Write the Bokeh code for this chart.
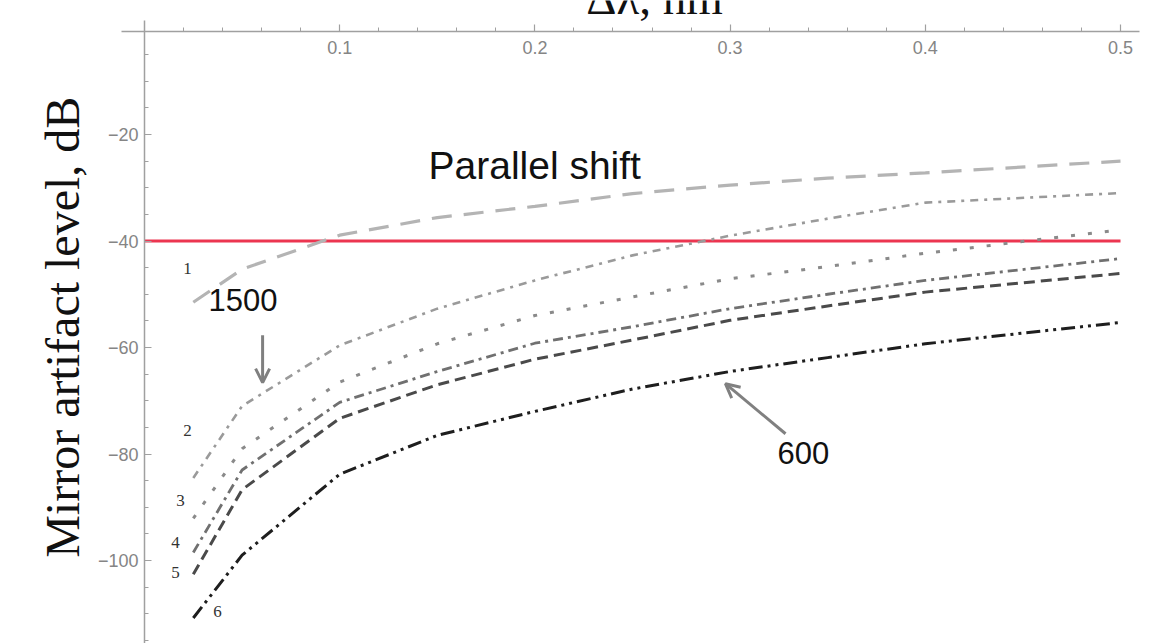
from bokeh.plotting import figure
from bokeh.models import Range1d, LinearAxis, FixedTicker, Label, Arrow, OpenHead
from bokeh.core.properties import value
from bokeh.embed import file_html
from bokeh.resources import INLINE

# ---- data ----
dlambda = [0.025, 0.05, 0.1, 0.15, 0.2, 0.25, 0.3, 0.35, 0.4, 0.5]
curve1 = [-51.5, -45.3, -38.9, -35.6, -33.5, -31.1, -29.5, -28.2, -27.2, -25.0]
curve2 = [-84.5, -71.0, -59.6, -52.7, -47.4, -42.7, -39.0, -35.8, -32.8, -31.0]
curve3 = [-92.1, -79.0, -66.5, -59.3, -54.0, -50.5, -47.1, -44.8, -42.3, -37.9]
curve4 = [-98.5, -83.0, -70.3, -64.5, -59.2, -56.1, -52.7, -50.0, -47.4, -43.3]
curve5 = [-102.6, -86.7, -73.3, -67.0, -62.2, -58.6, -54.9, -52.2, -49.6, -46.1]
curve6 = [-110.8, -99.0, -83.8, -76.5, -72.0, -67.8, -64.5, -61.9, -59.3, -55.3]
curves = [curve1, curve2, curve3, curve4, curve5, curve6]
curve_names = ["1", "2", "3", "4", "5", "6"]
threshold_db = -40

x_major = [0.1, 0.2, 0.3, 0.4, 0.5]
x_minor = [0.02, 0.04, 0.06, 0.08, 0.12, 0.14, 0.16, 0.18, 0.22, 0.24, 0.26, 0.28,
           0.32, 0.34, 0.36, 0.38, 0.42, 0.44, 0.46, 0.48]
y_major = [-100, -80, -60, -40, -20]
y_minor = [-5, -10, -15, -25, -30, -35, -45, -50, -55, -65, -70, -75, -85, -90, -95,
           -105, -110, -115]

# annotation anchors (data units)
num_label_x = [0.022, 0.022, 0.0184, 0.0159, 0.0159, 0.0374]
num_label_y = [-45.2, -75.6, -88.7, -96.6, -102.3, -109.6]

# ---- styles ----
colors = ["#b4b4b4", "#9a9a9a", "#8a8a8a", "#707070", "#4a4a4a", "#1e1e1e"]
dashes = ["20 12", "8 6 3 6", "4 13", "10 5 3 5", "11 6", "14 5 3 5 3 5"]
widths = [3.2, 2.6, 3.0, 2.8, 3.0, 3.0]

p = figure(width=1165, height=643, output_backend="svg", toolbar_location=None,
           x_range=Range1d(-144 / 1952, (1165 - 144) / 1952),
           y_range=Range1d((27.5 - 643) / 5.325, 27.5 / 5.325),
           x_axis_location=None, y_axis_location=None, min_border=0)
p.outline_line_color = None
p.grid.visible = False
p.background_fill_color = "white"

# axes (Mathematica style, crossing near the origin)
xaxis = LinearAxis(fixed_location=-0.7, ticker=FixedTicker(ticks=x_major, minor_ticks=x_minor),
                   bounds=(-0.0118, 0.5097))
yaxis = LinearAxis(fixed_location=0, ticker=FixedTicker(ticks=y_major, minor_ticks=y_minor),
                   bounds=(-117, 1.4),
                   major_label_overrides={v: "\u2212" + str(abs(v)) for v in y_major})
for ax in (xaxis, yaxis):
    ax.axis_line_color = "#a0a0a0"
    ax.axis_line_width = 1.5
    ax.major_tick_line_color = "#a0a0a0"
    ax.minor_tick_line_color = "#a0a0a0"
    ax.major_tick_line_width = 1.2
    ax.minor_tick_line_width = 1.0
    ax.major_tick_in = 7
    ax.major_tick_out = 0
    ax.minor_tick_in = 4
    ax.minor_tick_out = 0
    ax.major_label_text_color = "#858585"
    ax.major_label_text_font = "Liberation Sans"
    ax.major_label_text_font_size = "18px"
xaxis.major_label_standoff = 9
yaxis.major_label_standoff = 6
p.add_layout(xaxis, "below")
p.add_layout(yaxis, "left")

# threshold line
p.segment(x0=0, x1=max(dlambda), y0=threshold_db, y1=threshold_db,
          line_color="#ec3550", line_width=3)

# curves
for ys, c, d, w in zip(curves, colors, dashes, widths):
    p.line(dlambda, ys, line_color=c, line_dash=d, line_width=w)

# curve numbers
p.text(x=num_label_x, y=num_label_y, text=curve_names, text_font=value("Liberation Serif"),
       text_font_size="17px", text_color="#333333", text_align="center",
       text_baseline="middle")

# annotations
p.add_layout(Label(x=0.1455, y=-29.8, text="Parallel shift", text_font="Liberation Sans",
                   text_font_size="39px", text_color="#111111"))
p.add_layout(Label(x=0.0328, y=-53.1, text="1500", text_font="Liberation Sans",
                   text_font_size="31px", text_color="#111111"))
p.add_layout(Label(x=0.3243, y=-81.8, text="600", text_font="Liberation Sans",
                   text_font_size="31px", text_color="#111111"))

p.add_layout(Arrow(x_start=0.0605, y_start=-57.7, x_end=0.0605, y_end=-66.6,
                   line_color="#808080", line_width=3,
                   end=OpenHead(size=14, line_color="#808080", line_width=3)))
p.add_layout(Arrow(x_start=0.3284, y_start=-76.2, x_end=0.2976, y_end=-66.8,
                   line_color="#808080", line_width=3,
                   end=OpenHead(size=14, line_color="#808080", line_width=3)))

# axis titles
p.add_layout(Label(x=-0.042, y=-56.2, text="Mirror artifact level, dB", angle=90,
                   angle_units="deg", text_font="Liberation Serif", text_font_size="48px",
                   text_color="#111111", text_align="center", text_baseline="alphabetic"))
p.add_layout(Label(x=0.2613, y=5.7, text="\u0394\u03bb, nm", text_font="Liberation Serif",
                   text_font_size="47px", text_color="#111111", text_align="center",
                   text_baseline="alphabetic"))

open("out.html", "w").write(file_html(p, INLINE))
